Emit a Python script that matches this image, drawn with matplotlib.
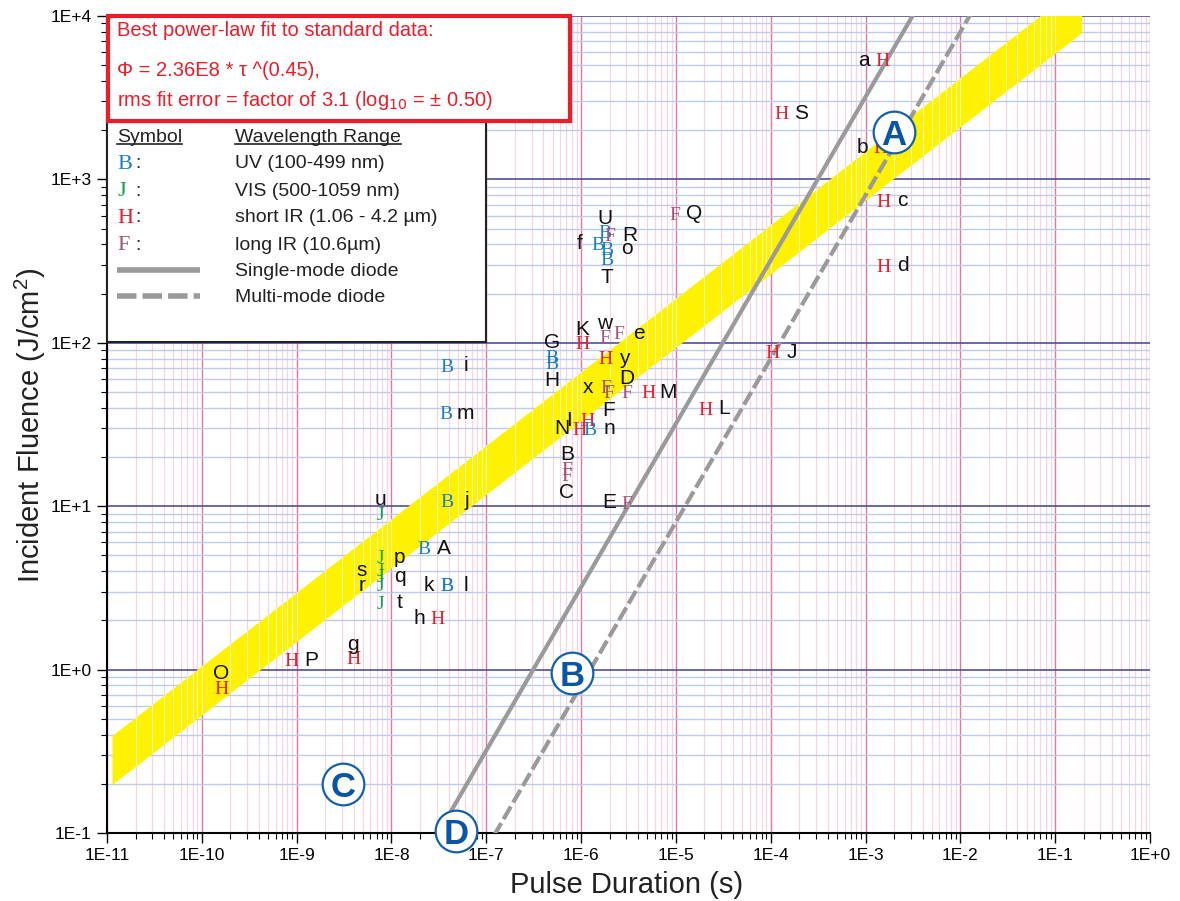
import numpy as np
import matplotlib
matplotlib.use('Agg')
import matplotlib.pyplot as plt
from matplotlib import font_manager
from matplotlib.patches import Rectangle
from matplotlib.lines import Line2D
from matplotlib.ticker import LogLocator, FuncFormatter, NullFormatter

# damage data: pulse duration (s), fluence (J/cm2), wavelength class, reference letter
pt_tau = [1.50e-3, 1.29e-4, 1.43e-3, 1.53e-3, 1.53e-3, 9.8e-6, 1.79e-6, 2.02e-6,
          1.51e-6, 1.88e-6, 1.88e-6, 4.94e-7, 4.94e-7, 1.03e-6, 1.79e-6, 2.52e-6,
          1.79e-6, 1.84e-6, 3.05e-6, 1.97e-6, 5.09e-6, 1.16e-6, 9.7e-7, 1.24e-6,
          7.1e-7, 7.1e-7, 3.05e-6, 2.03e-5, 1.04e-4, 3.85e-8, 3.77e-8, 3.85e-8,
          7.59e-9, 7.59e-9, 2.21e-8, 7.59e-9, 7.59e-9, 7.59e-9, 7.59e-9, 3.85e-8,
          3.85e-8, 3.03e-8, 1.60e-10, 8.9e-10, 3.94e-9]
pt_phi = [5380, 2550, 1580, 748, 299, 622, 477, 457,
          408, 380, 326, 83, 76, 100, 109, 115,
          81, 53.7, 50, 50, 50, 33.7, 30.1, 30.1,
          17.1, 15.7, 10.6, 39.9, 87.9, 73, 37.2, 10.9,
          9.08, 4.89, 5.55, 4.07, 3.74, 3.30, 2.59, 3.30,
          3.30, 2.07, 0.78, 1.15, 1.18]
pt_kind = ['H', 'H', 'H', 'H', 'H', 'F', 'B', 'F',
           'B', 'B', 'B', 'B', 'B', 'H', 'F', 'F',
           'H', 'F', 'F', 'F', 'H', 'H', 'H', 'B',
           'F', 'F', 'F', 'H', 'H', 'B', 'B', 'B',
           'J', 'J', 'B', 'J', 'J', 'J', 'J', 'B',
           'B', 'H', 'H', 'H', 'H']
pt_label = ['a', 'S', 'b', 'c', 'd', 'Q', 'U', 'R',
            'f', 'o', 'T', 'G', 'H', 'K', 'w', 'e',
            'y', 'x', 'D', 'F', 'M', 'I', 'N', 'n',
            'B', 'C', 'E', 'L', 'J', 'i', 'm', 'j',
            'u', 'p', 'A', 's', 'q', 'r', 't', 'k',
            'l', 'h', 'O', 'P', 'g']
# where the reference letter sits next to its symbol
pt_side = ['l', 'r', 'l', 'r', 'r', 'r', 'u', 'r',
           'l', 'r', 'd', 'u', 'd', 'u', 'u', 'r',
           'r', 'l', 'u', 'd', 'r', 'l', 'l', 'r',
           'u', 'd', 'l', 'r', 'r', 'r', 'r', 'r',
           'u', 'r', 'r', 'l', 'r', 'l', 'r', 'l',
           'r', 'l', 'u', 'r', 'u']

# power-law fit (J/cm2) and band half width in decades
fit_coef = 2.36e4
fit_exp = 0.45
band_hw = 0.15
band_tau = [1.13e-11, 0.19]

# diode damage lines, fluence = coef * tau
single_coef = 3.2e6
multi_coef = 8.0e5

# circled region markers
reg_name = ['A', 'B', 'C', 'D']
reg_tau = [2.0e-3, 8.0e-7, 3.1e-9, 4.8e-8]
reg_phi = [1950, 0.95, 0.2, 0.103]

kind_col = {'B': '#1C7CC4', 'J': '#17A04E', 'H': '#EC1C2A', 'F': '#A35475'}
legend_kind = ['B', 'J', 'H', 'F']
legend_text = ['UV (100-499 nm)', 'VIS (500-1059 nm)', 'short IR (1.06 - 4.2 µm)',
               'long IR (10.6µm)']

names = {f.name for f in font_manager.fontManager.ttflist}
sans = 'Liberation Sans'
narrow = 'Liberation Sans Narrow' if 'Liberation Sans Narrow' in names else sans
serif = 'Liberation Serif'

W, H = 1180, 901
fig = plt.figure(figsize=(W / 100, H / 100), dpi=100)


def fx(x):
    return x / W


def fy(y):
    return 1 - y / H


ax = fig.add_axes([fx(107), fy(833), (1150 - 107) / W, (833 - 16) / H])
ax.set_xscale('log')
ax.set_yscale('log')
ax.set_xlim(1e-11, 1)
ax.set_ylim(0.1, 1e4)

ax.xaxis.set_major_locator(LogLocator(base=10, numticks=30))
ax.xaxis.set_minor_locator(LogLocator(base=10, subs=np.arange(2, 10), numticks=300))
ax.yaxis.set_major_locator(LogLocator(base=10, numticks=30))
ax.yaxis.set_minor_locator(LogLocator(base=10, subs=np.arange(2, 10), numticks=300))
fmt = FuncFormatter(lambda v, p: '1E%+d' % round(np.log10(v)))
ax.xaxis.set_major_formatter(fmt)
ax.yaxis.set_major_formatter(fmt)
ax.xaxis.set_minor_formatter(NullFormatter())
ax.yaxis.set_minor_formatter(NullFormatter())

ax.grid(True, which='minor', axis='x', color='#F8D3E3', lw=0.9)
ax.grid(True, which='major', axis='x', color='#E873A8', lw=1.0)
ax.grid(True, which='minor', axis='y', color='#BCCCEA', lw=1.0)
ax.grid(True, which='major', axis='y', color='#4E4E9E', lw=1.2)
ax.set_axisbelow(True)

for s in ['top', 'right']:
    ax.spines[s].set_visible(False)
for s in ['left', 'bottom']:
    ax.spines[s].set_linewidth(1.5)
ax.tick_params(which='major', direction='out', length=7, width=1, labelsize=12.5, pad=4)
ax.tick_params(which='minor', direction='out', length=4, width=0.8)
for lab in ax.get_xticklabels() + ax.get_yticklabels():
    lab.set_family(sans)

# yellow fit band with white stripes where the vertical grid runs
tb = np.logspace(np.log10(band_tau[0]), np.log10(band_tau[1]), 400)
centre = fit_coef * tb ** fit_exp
band = ax.fill_between(tb, centre / 10 ** band_hw, centre * 10 ** band_hw,
                       color='#FFF200', lw=0, zorder=2)
xs = [m * 10.0 ** e for e in range(-11, 0) for m in range(1, 10)]
stripes = ax.vlines(xs, 0.1, 1e4, color='white', lw=0.5, zorder=2.1)
stripes.set_clip_path(band.get_paths()[0], ax.transData)

# diode lines
tl = np.logspace(-11, 0, 300)
ax.plot(tl, single_coef * tl, color='#9A9A9A', lw=3, zorder=3, solid_capstyle='butt')
ax.plot(tl, multi_coef * tl, color='#9A9A9A', lw=3, zorder=3, ls=(0, (3.5, 1.1)))

# data symbols and their letters
offs = {'r': (14, 1), 'l': (-13, 1), 'u': (0, 11), 'd': (0, -12)}
for t, p, k, lab, sd in zip(pt_tau, pt_phi, pt_kind, pt_label, pt_side):
    ax.text(t, p, k, color=kind_col[k], family=serif, fontsize=14,
            ha='center', va='center_baseline', zorder=6)
    ax.annotate(lab, (t, p), xytext=offs[sd], textcoords='offset points',
                ha='center', va='center_baseline', fontsize=15, family=sans,
                color='#111111', zorder=6)

# circled letters
for n, t, p in zip(reg_name, reg_tau, reg_phi):
    ax.plot(t, p, 'o', ms=30, mfc='white', mec='#1560AA', mew=1.6, zorder=7, clip_on=False)
    ax.text(t, p, n, fontsize=25, fontweight='bold', family=sans, color='#0B55A5',
            ha='center', va='center_baseline', zorder=8, clip_on=False)

# red fit box
red = '#EC1C2A'
fig.add_artist(Rectangle((fx(108), fy(121)), (570 - 108) / W, (121 - 16) / H,
                         transform=fig.transFigure, fc='white', ec=red, lw=3, zorder=10))
fig.text(fx(117), fy(28), 'Best power-law fit to standard data:', color=red,
         family=sans, fontsize=14.5, va='center_baseline', zorder=11)
fig.text(fx(117), fy(68), 'Φ = 2.36E8 * τ ^(0.45),', color=red,
         family=sans, fontsize=14.5, va='center_baseline', zorder=11)
fig.text(fx(117), fy(97), 'rms fit error = factor of 3.1 (log$_{10}$ = ± 0.50)', color=red,
         family=sans, fontsize=14.5, va='center_baseline', zorder=11)

# symbol legend box
plt.rcParams['mathtext.fontset'] = 'custom'
plt.rcParams['mathtext.rm'] = sans
fig.add_artist(Rectangle((fx(107), fy(342)), (486 - 107) / W, (342 - 122) / H,
                         transform=fig.transFigure, fc='white', ec='#222222', lw=1.5, zorder=9))
heads = [fig.text(fx(117), fy(135), 'Symbol', family=sans, fontsize=14, color='#222222',
                  va='center_baseline', zorder=11),
         fig.text(fx(235), fy(135), 'Wavelength Range', family=sans, fontsize=14,
                  color='#222222', va='center_baseline', zorder=11)]
fig.canvas.draw()
rend = fig.canvas.get_renderer()
for h in heads:
    bb = h.get_window_extent(rend)
    fig.add_artist(Line2D([bb.x0 / W, bb.x1 / W], [fy(144)] * 2, transform=fig.transFigure,
                          color='#222222', lw=1.2, zorder=11))

rows = [162, 189, 216, 243]
for k, txt, y in zip(legend_kind, legend_text, rows):
    fig.text(fx(117), fy(y), k, family=serif, fontsize=16, color=kind_col[k],
             va='center_baseline', zorder=11)
    fig.text(fx(135), fy(y), ':', family=sans, fontsize=14, color='#222222',
             va='center_baseline', zorder=11)
    fig.text(fx(235), fy(y), txt, family=sans, fontsize=14, color='#222222',
             va='center_baseline', zorder=11)

fig.add_artist(Line2D([fx(117), fx(200)], [fy(270)] * 2, transform=fig.transFigure,
                      color='#9A9A9A', lw=4, zorder=11, solid_capstyle='butt'))
fig.add_artist(Line2D([fx(117), fx(200)], [fy(296)] * 2, transform=fig.transFigure,
                      color='#9A9A9A', lw=4, ls=(0, (3.5, 1.1)), zorder=11))
fig.text(fx(235), fy(270), 'Single-mode diode', family=sans, fontsize=14, color='#222222',
         va='center_baseline', zorder=11)
fig.text(fx(235), fy(296), 'Multi-mode diode', family=sans, fontsize=14, color='#222222',
         va='center_baseline', zorder=11)

# axis titles
fig.text(fx(627), fy(882), 'Pulse Duration (s)', family=narrow, fontsize=21,
         ha='center', va='center_baseline', color='#222222')
fig.text(fx(30), fy(425), 'Incident Fluence (J/cm$^2$)', family=narrow, fontsize=21,
         rotation=90, ha='center', va='center', color='#222222')

fig.savefig('out.png', dpi=100)
